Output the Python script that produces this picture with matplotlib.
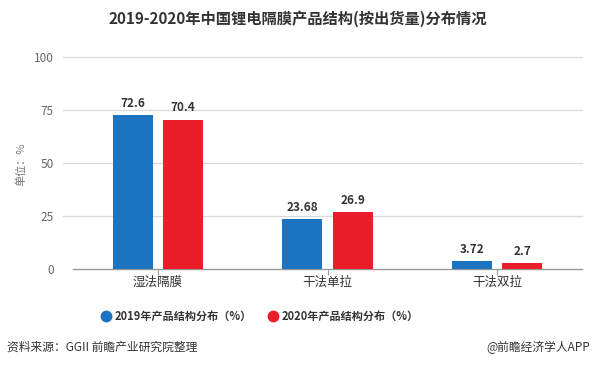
import matplotlib
matplotlib.use("Agg")
import matplotlib.pyplot as plt
import numpy as np

plt.rcParams['font.family'] = ['Noto Sans CJK SC', 'DejaVu Sans']

# data
categories = ["湿法隔膜", "干法单拉", "干法双拉"]
share_2019 = [72.6, 23.68, 3.72]
share_2020 = [70.4, 26.9, 2.7]
labels_2019 = ["72.6", "23.68", "3.72"]
labels_2020 = ["70.4", "26.9", "2.7"]
series_names = ["2019年产品结构分布（%）", "2020年产品结构分布（%）"]
yticks = [0, 25, 50, 75, 100]

BLUE = "#1a74c2"
RED = "#ec1d2b"

fig = plt.figure(figsize=(5.96, 3.68), dpi=100)
ax = fig.add_axes([0.1225, 0.269, 0.854, 0.576])

x = np.arange(len(categories))
w = 0.236
off = 0.149
b1 = ax.bar(x - off, share_2019, w, color=BLUE, label=series_names[0], zorder=3)
b2 = ax.bar(x + off, share_2020, w, color=RED, label=series_names[1], zorder=3)

# value labels
for rect, txt in zip(b1, labels_2019):
    ax.text(rect.get_x() + rect.get_width() / 2, rect.get_height() + 2.5, txt,
            ha="center", va="bottom", fontsize=8.5, fontweight="bold", color="#333333")
for rect, txt in zip(b2, labels_2020):
    ax.text(rect.get_x() + rect.get_width() / 2, rect.get_height() + 2.5, txt,
            ha="center", va="bottom", fontsize=8.5, fontweight="bold", color="#333333")

ax.set_xlim(-0.5, 2.5)
ax.set_ylim(0, 100)
ax.set_yticks(yticks)
ax.set_xticks(x)
ax.set_xticklabels(categories, fontsize=9, color="#333333")
ax.tick_params(axis="y", length=0, labelsize=8.5, labelcolor="#666666", pad=14)
ax.tick_params(axis="x", length=4, color="#999999", pad=1)

# grid lines (reach a little left of the axis)
for t in yticks[1:]:
    ax.plot([-0.56, 2.5], [t, t], color="#d9d9d9", lw=0.9, clip_on=False, zorder=1)

for s in ["top", "right", "left"]:
    ax.spines[s].set_visible(False)
ax.spines["bottom"].set_color("#999999")
ax.spines["bottom"].set_linewidth(1)

fig.text(0.035, 0.555, "单位：%", rotation=90, ha="center", va="center",
         fontsize=8, color="#777777")

fig.text(0.5, 0.95, "2019-2020年中国锂电隔膜产品结构(按出货量)分布情况",
         ha="center", va="center", fontsize=11, fontweight="bold", color="#333333")

fig.legend(handles=[
    plt.Line2D([], [], marker="o", ls="", color=BLUE, markersize=7.5),
    plt.Line2D([], [], marker="o", ls="", color=RED, markersize=7.5)],
    labels=series_names, loc="center", bbox_to_anchor=(0.434, 0.139), ncol=2,
    frameon=False, handletextpad=0.1, columnspacing=1.2, handlelength=1.4,
    prop={"size": 8, "weight": "bold"}, labelcolor="#333333")

fig.text(0.012, 0.057, "资料来源：GGII 前瞻产业研究院整理", ha="left", va="center",
         fontsize=8.5, color="#333333")
fig.text(0.99, 0.057, "@前瞻经济学人APP", ha="right", va="center",
         fontsize=8.5, color="#333333")

fig.savefig("out.png", dpi=100)
